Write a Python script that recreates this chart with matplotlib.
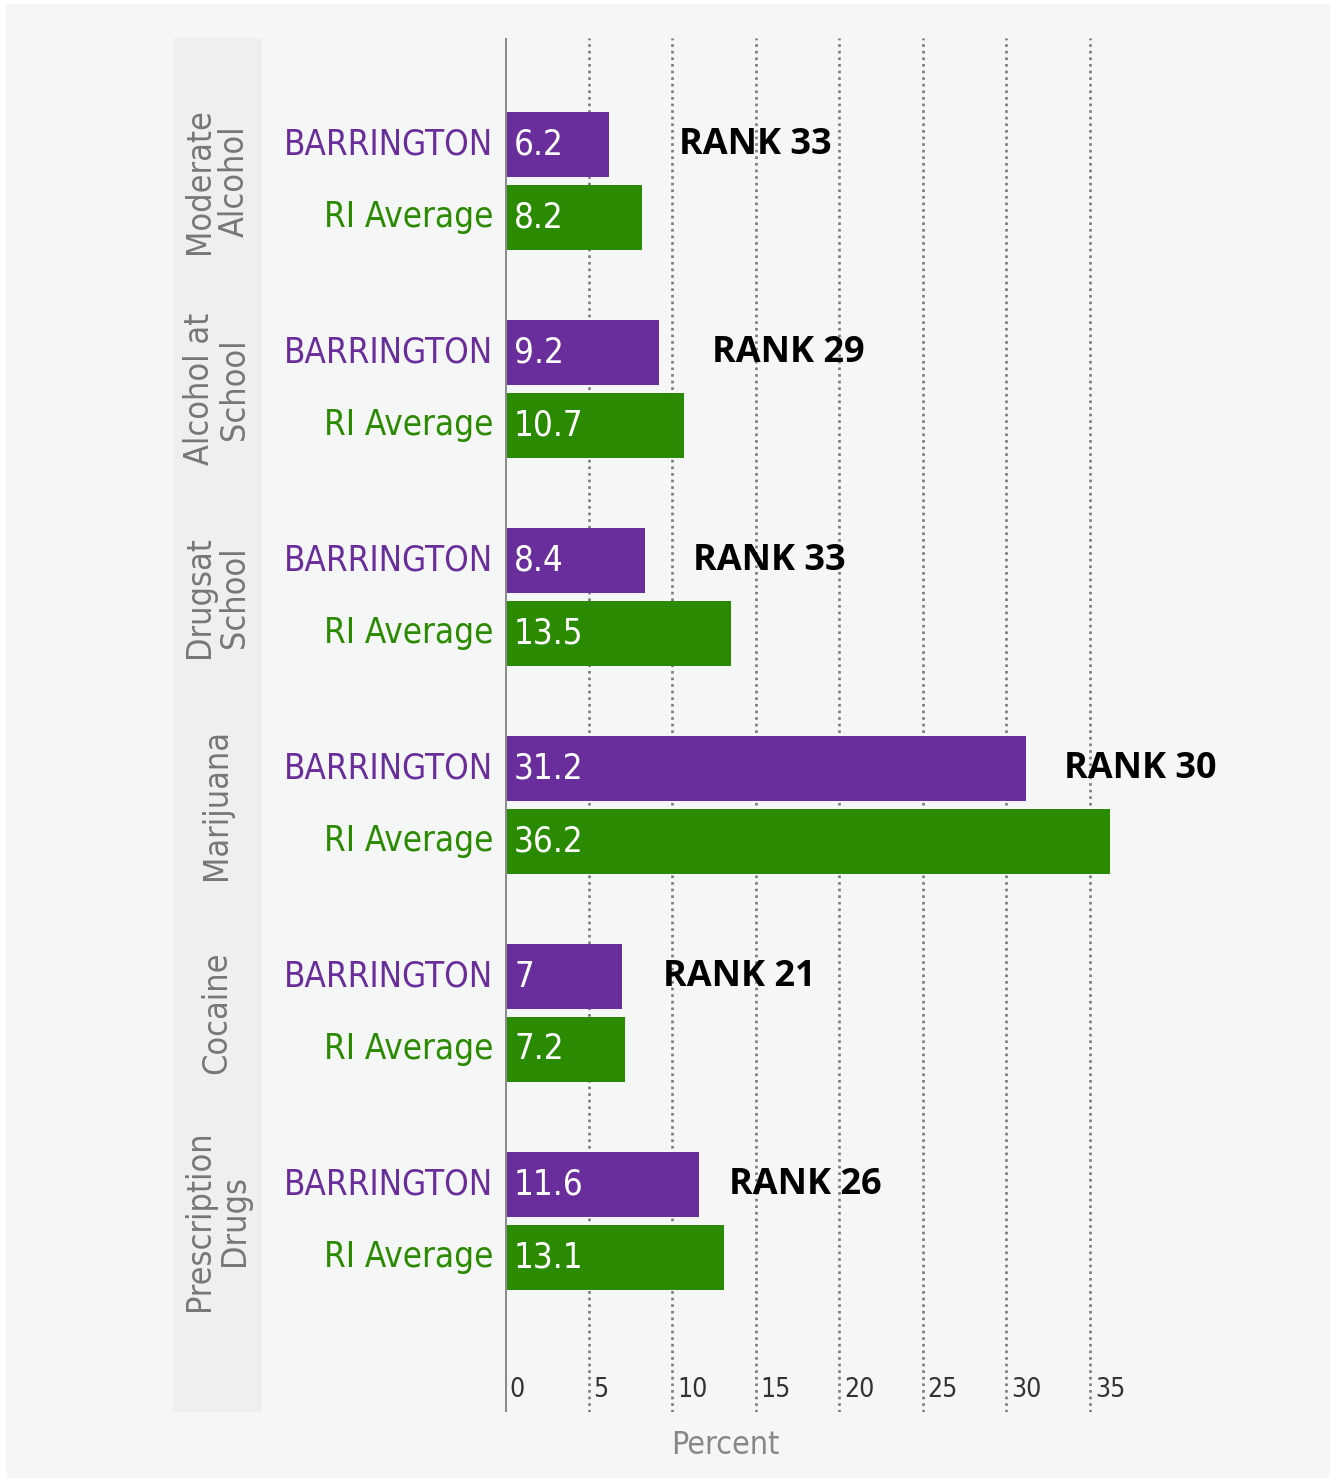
import matplotlib
matplotlib.use("Agg")
import matplotlib.pyplot as plt
from matplotlib import font_manager as fm
from matplotlib.patches import Rectangle

# data
categories = ["Moderate\nAlcohol", "Alcohol at\nSchool", "Drugsat\nSchool",
              "Marijuana", "Cocaine", "Prescription\nDrugs"]
barrington = [6.2, 9.2, 8.4, 31.2, 7, 11.6]
ri_average = [8.2, 10.7, 13.5, 36.2, 7.2, 13.1]
value_labels_b = ["6.2", "9.2", "8.4", "31.2", "7", "11.6"]
value_labels_ri = ["8.2", "10.7", "13.5", "36.2", "7.2", "13.1"]
ranks = [33, 29, 33, 30, 21, 26]
rank_x = [10.4, 12.4, 11.25, 33.45, 9.45, 13.4]
ticks = [0, 5, 10, 15, 20, 25, 30, 35]

PURPLE = "#692e9b"
GREEN = "#2a8a00"
BG = "#f5f6f6"

names = {f.name for f in fm.fontManager.ttflist}
if "Liberation Sans Narrow" in names:
    NARROW = dict(family="Liberation Sans Narrow")
else:
    NARROW = dict(family="DejaVu Sans", stretch="condensed")
BOLD = "Open Sans" if "Open Sans" in names else "DejaVu Sans"

W, H = 1335, 1482
fig = plt.figure(figsize=(W / 100, H / 100), dpi=100, facecolor="white")

# page background and left label strip
fig.patches.append(Rectangle((6 / W, 4 / H), 1324 / W, 1474 / H, transform=fig.transFigure,
                             facecolor=BG, edgecolor="none", zorder=-3))
fig.patches.append(Rectangle((173 / W, 1 - 1412 / H), 89 / W, 1374 / H, transform=fig.transFigure,
                             facecolor="#eeefef", edgecolor="none", zorder=-2))

ax_left, ax_top, ax_bottom = 505, 38, 1412
px_per_unit = 16.714
xmax = 40
ax = fig.add_axes([ax_left / W, 1 - ax_bottom / H, xmax * px_per_unit / W, (ax_bottom - ax_top) / H])
ax.set_facecolor("none")

group_px = 208
y0 = 181
ax.set_xlim(0, xmax)
ax.set_ylim((ax_bottom - y0) / group_px, (ax_top - y0) / group_px)

off = 0.175
h = 0.3125
ypos = list(range(len(categories)))
yb = [y - off for y in ypos]
yr = [y + off for y in ypos]

ax.barh(yb, barrington, height=h, color=PURPLE, zorder=3)
ax.barh(yr, ri_average, height=h, color=GREEN, zorder=3)

for t in ticks[1:]:
    ax.axvline(t, color="#7a7a7a", lw=1.9, ls=(0, (1, 1.5)), zorder=1)
ax.axvline(0, color="#8c8c8c", lw=2.2, zorder=4)

for sp in ax.spines.values():
    sp.set_visible(False)
ax.set_xticks([])
ax.set_yticks([])

for i in range(len(categories)):
    ax.annotate("BARRINGTON", xy=(0, yb[i]), xytext=(-8.5, 0), textcoords="offset points",
                ha="right", va="center", color=PURPLE, fontsize=25, **NARROW)
    ax.annotate("RI Average", xy=(0, yr[i]), xytext=(-8.5, 0), textcoords="offset points",
                ha="right", va="center", color=GREEN, fontsize=25, **NARROW)
    ax.annotate(value_labels_b[i], xy=(0, yb[i]), xytext=(6.5, 0), textcoords="offset points",
                ha="left", va="center", color="white", fontsize=25, zorder=5, **NARROW)
    ax.annotate(value_labels_ri[i], xy=(0, yr[i]), xytext=(6.5, 0), textcoords="offset points",
                ha="left", va="center", color="white", fontsize=25, zorder=5, **NARROW)
    ax.text(rank_x[i], yb[i], "RANK %d" % ranks[i], ha="left", va="center",
            fontsize=26, fontweight="bold", family=BOLD, color="black", zorder=6)
    ax.annotate(categories[i], xy=(0, ypos[i]), xytext=(-207.5, 0), textcoords="offset points",
                ha="center", va="center", rotation=90, color="#777777", fontsize=24.5,
                linespacing=1.1, multialignment="center", annotation_clip=False, **NARROW)

ybot = ax.get_ylim()[0]
for t in ticks:
    ax.annotate(str(t), xy=(t, ybot), xytext=(3.5, 15.5), textcoords="offset points",
                ha="left", va="center", color="#333333", fontsize=19, **NARROW)

fig.text(725 / W, 1 - 1445 / H, "Percent", ha="center", va="center",
         color="#888888", fontsize=23, **NARROW)

fig.savefig("out.png", dpi=100, facecolor=fig.get_facecolor())
